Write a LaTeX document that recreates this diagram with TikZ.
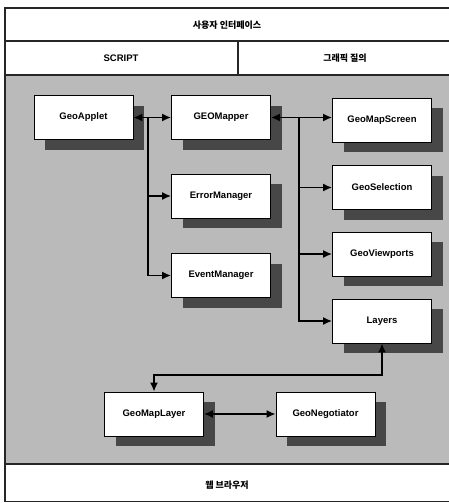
\documentclass[tikz,border=0pt]{standalone}
\usepackage{fontspec}
\setmainfont{Liberation Sans}
\newfontfamily\krfont{Noto Sans CJK KR}
\usetikzlibrary{arrows.meta,shadows}
\begin{document}
\begin{tikzpicture}[x=1pt,y=-1pt,
  frame/.style={line width=1.1pt,black!85},
  cls/.style={draw,line width=0.7pt,fill=white,minimum width=99pt,minimum height=44pt,
    inner sep=0pt,font=\fontsize{9.5}{11}\selectfont\bfseries,
    drop shadow={shadow xshift=11pt,shadow yshift=-10pt,fill=black!72,opacity=1}},
  band/.style={font=\fontsize{9.5}{11}\selectfont\bfseries},
  kr/.style={font=\krfont\fontsize{9}{11}\selectfont\bfseries},
  tip/.tip={Latex[length=9pt,width=8pt]},
  conn/.style={line width=1.8pt,-tip},
  dconn/.style={line width=1.8pt,tip-tip}]
\useasboundingbox (0,0) rectangle (449,503);

% gray working area
\fill[black!27] (5,75) rectangle (449,464);

% outer frame and bands
\draw[frame] (5,502) -- (5,8) -- (449,8);
\draw[frame] (5,41) -- (449,41);
\draw[frame] (5,75) -- (449,75);
\draw[frame] (238,41) -- (238,75);
\draw[frame] (5,464) -- (449,464);
\draw[frame] (5,501.5) -- (449,501.5);

\node[kr] (ui) at (227,25) {사용자 인터페이스};
\node[band] (script) at (121,58) {SCRIPT};
\node[kr] (gq) at (345,58) {그래픽 질의};
\node[kr] (web) at (227,485) {웹 브라우저};

% classes
\node[cls] (applet) at (83.5,117.5) {GeoApplet};
\node[cls] (mapper) at (221,117.5) {GEOMapper};
\node[cls] (err) at (221,196) {ErrorManager};
\node[cls] (evt) at (221,275.5) {EventManager};
\node[cls] (screen) at (382,120) {GeoMapScreen};
\node[cls] (sel) at (382,187.5) {GeoSelection};
\node[cls] (view) at (382,254) {GeoViewports};
\node[cls] (layers) at (382,321) {Layers};
\node[cls] (maplayer) at (154,414) {GeoMapLayer};
\node[cls] (nego) at (325.5,414) {GeoNegotiator};

% connectors
\coordinate (ta) at (148,117.5);
\coordinate (tb) at (299,118);
\coordinate (lb) at (382,375);

\draw[dconn] (applet.east) -- (mapper.west);
\draw[conn] (ta) |- (evt.west);
\draw[conn] (ta |- err.west) -- (err.west);

\draw[dconn] (mapper.east) -- (mapper.east -| screen.west);
\draw[conn] (tb) |- (layers.west);
\draw[conn] (tb |- sel.west) -- (sel.west);
\draw[conn] (tb |- view.west) -- (view.west);

\draw[dconn] (layers.south) -- (lb) -| (maplayer.north);
\draw[dconn] (maplayer.east) -- (nego.west);
\end{tikzpicture}
\end{document}
